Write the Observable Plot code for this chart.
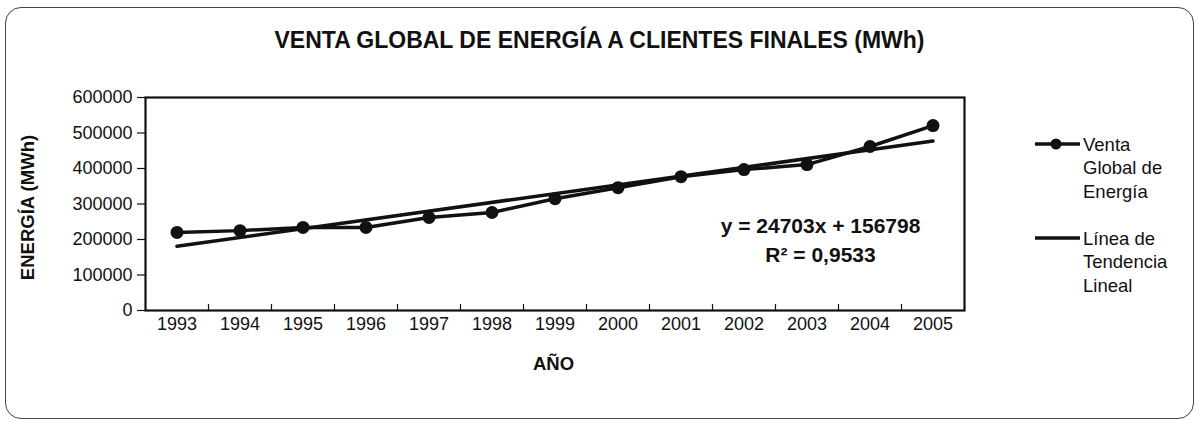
<!DOCTYPE html>
<html>
<head>
<meta charset="utf-8">
<script src="https://cdn.jsdelivr.net/npm/d3@7"></script>
<script src="https://cdn.jsdelivr.net/npm/@observablehq/plot@0.6"></script>
<style>
  body { margin: 0; background: #fff; font-family: "Liberation Sans", Arial, sans-serif; color: #111; }
  #wrap { position: relative; width: 1199px; height: 423px; overflow: hidden; background: #fff; }
  #box { position: absolute; left: 5px; top: 7px; width: 1189px; height: 412px; border: 1.6px solid #444; border-radius: 16px; box-sizing: border-box; }
  #title { position: absolute; left: 0; top: 29px; width: 1199px; text-align: center; font-weight: bold; font-size: 23px; line-height: 23px; white-space: nowrap; }
  #chart { position: absolute; left: 0; top: 0; }
  .legtext { position: absolute; left: 1083px; font-size: 18.5px; line-height: 23.5px; white-space: pre; }
  .legsw { position: absolute; left: 1030px; }
</style>
</head>
<body>
<div id="wrap">
  <div id="box"></div>
  <div id="chart"></div>
  <div id="title"></div>
  <div id="legend"></div>
</div>
<script>
const titleText = "VENTA GLOBAL DE ENERGÍA A CLIENTES FINALES (MWh)";
const years = ["1993","1994","1995","1996","1997","1998","1999","2000","2001","2002","2003","2004","2005"];
const ventas = [220000, 225000, 234000, 234000, 262000, 276000, 315000, 346000, 377000, 397000, 411000, 462000, 521000];
const yTicks = [0, 100000, 200000, 300000, 400000, 500000, 600000];
const legendLabels = ["Venta\nGlobal de\nEnergía", "Línea de\nTendencia\nLineal"];
const equationText = "y = 24703x + 156798\nR² = 0,9533";
const yLabel = "ENERGÍA (MWh)";
const xLabel = "AÑO";

const data = years.map((year, i) => ({idx: i + 1, year, value: ventas[i]}));
const bounds = years.slice(1).map((_, i) => i + 1.5);

document.getElementById("title").textContent = titleText;

const chart = Plot.plot({
  width: 1199,
  height: 423,
  marginLeft: 145,
  marginRight: 235,
  marginTop: 97,
  marginBottom: 113,
  style: {fontFamily: '"Liberation Sans", Arial, sans-serif', fontSize: "18px", color: "#111", background: "transparent"},
  x: {domain: [0.5, years.length + 0.5], axis: null},
  y: {domain: [0, 600000], axis: null},
  marks: [
    Plot.frame({stroke: "#111", strokeWidth: 2.2}),
    Plot.ruleX(bounds, {x: d => d, y1: 0, y2: 17000, stroke: "#111", strokeWidth: 1.2}),
    Plot.axisY({ticks: yTicks, tickSize: 8, tickPadding: 5, tickFormat: d3.format("d"), label: null, fontSize: 18, strokeWidth: 1.2}),
    Plot.axisX({ticks: data.map(d => d.idx), tickSize: 0, tickPadding: 7, tickFormat: i => years[i - 1], label: null, fontSize: 18}),
    Plot.linearRegressionY(data, {x: "idx", y: "value", stroke: "#111", strokeWidth: 3.5, ci: 0}),
    Plot.line(data, {x: "idx", y: "value", stroke: "#111", strokeWidth: 3.5}),
    Plot.dot(data, {x: "idx", y: "value", r: 6.5, fill: "#111", stroke: "none"}),
    Plot.text([equationText], {text: d => d, frameAnchor: "right", dx: -144, dy: 34, textAnchor: "middle", lineAnchor: "middle", fontWeight: "bold", fontSize: 21, lineHeight: 1.39}),
    Plot.text([yLabel], {text: d => d, frameAnchor: "left", dx: -117, dy: 3.5, rotate: -90, textAnchor: "middle", lineAnchor: "middle", fontWeight: "bold", fontSize: 18.5}),
    Plot.text([xLabel], {text: d => d, frameAnchor: "bottom", dx: -1.5, dy: 54, textAnchor: "middle", lineAnchor: "middle", fontWeight: "bold", fontSize: 18.5})
  ]
});
document.getElementById("chart").appendChild(chart);

// Legend
const legend = document.getElementById("legend");
const legTops = [132.5, 226.5];
legendLabels.forEach((lab, i) => {
  const t = document.createElement("div");
  t.className = "legtext";
  t.style.top = legTops[i] + "px";
  t.textContent = lab;
  legend.appendChild(t);
  const sw = document.createElementNS("http://www.w3.org/2000/svg", "svg");
  sw.setAttribute("class", "legsw");
  sw.setAttribute("width", 56);
  sw.setAttribute("height", 20);
  sw.style.top = (legTops[i] + 11.5 - 10) + "px";
  const ln = document.createElementNS("http://www.w3.org/2000/svg", "line");
  ln.setAttribute("x1", 5); ln.setAttribute("x2", 50);
  ln.setAttribute("y1", 10); ln.setAttribute("y2", 10);
  ln.setAttribute("stroke", "#111"); ln.setAttribute("stroke-width", 3.5);
  sw.appendChild(ln);
  if (i === 0) {
    const c = document.createElementNS("http://www.w3.org/2000/svg", "circle");
    c.setAttribute("cx", 26); c.setAttribute("cy", 10); c.setAttribute("r", 5.5);
    c.setAttribute("fill", "#111");
    sw.appendChild(c);
  }
  legend.appendChild(sw);
});
</script>
</body>
</html>
